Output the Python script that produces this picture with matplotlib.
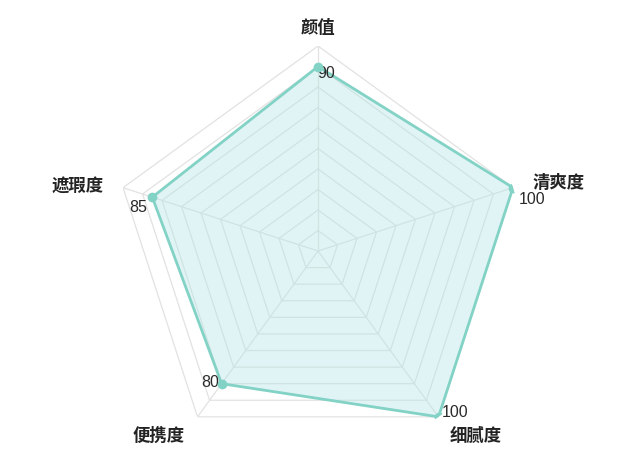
import numpy as np
import matplotlib
matplotlib.use("Agg")
import matplotlib.pyplot as plt

categories = ["颜值", "清爽度", "细腻度", "便携度", "遮瑕度"]
values = [90, 100, 100, 80, 85]
value_labels = ["90", "100", "100", "80", "85"]
r_max = 100
n_rings = 10

plt.rcParams['font.family'] = ['Noto Sans CJK SC', 'DejaVu Sans']

fig = plt.figure(figsize=(6.4, 4.6), dpi=100)
ax = fig.add_axes([0.1766, 0.0065, 0.6406, 0.8913], projection='polar')
ax.set_theta_offset(np.pi / 2)
ax.set_theta_direction(-1)
ax.set_ylim(0, r_max)
ax.grid(False)
ax.spines['polar'].set_visible(False)
ax.set_xticks([])
ax.set_yticks([])
ax.patch.set_alpha(0)

n = len(categories)
theta = np.linspace(0, 2 * np.pi, n, endpoint=False)
theta_c = np.append(theta, theta[0])

grid_col = '#e2e2e2'
for k in range(1, n_rings + 1):
    rr = r_max * k / n_rings
    ax.plot(theta_c, [rr] * (n + 1), color=grid_col, lw=0.9, zorder=1)
for t in theta:
    ax.plot([t, t], [0, r_max], color=grid_col, lw=0.9, zorder=1)

vals_c = np.append(values, values[0])
ax.fill(theta_c, vals_c, color='#b5e5e6', alpha=0.40, zorder=2, lw=0)
ax.plot(theta_c, vals_c, color='#82d2c6', lw=2.0, zorder=3)
ax.plot(theta, values, 'o', color='#82d2c6', ms=6, zorder=4)

cat_offsets = [(0, 19), (46, 6), (37.5, -18), (-38.5, -18), (-45.5, 2.5)]
for t, lab, off in zip(theta, categories, cat_offsets):
    ax.annotate(lab, xy=(t, r_max), xytext=off, textcoords='offset pixels',
                ha='center', va='center', fontsize=12.5, color='#222222',
                fontweight='bold', annotation_clip=False)

val_offsets = [(8.5, -5.5), (19, -11), (16.5, 5), (-11.7, 2), (-14, -9)]
for t, v, lab, off in zip(theta, values, value_labels, val_offsets):
    ax.annotate(lab, xy=(t, v), xytext=off, textcoords='offset pixels',
                ha='center', va='center', fontsize=11.5, color='#2a2a2a',
                family=['Liberation Sans', 'DejaVu Sans'],
                annotation_clip=False)

fig.savefig('out.png', dpi=100, facecolor='white')
